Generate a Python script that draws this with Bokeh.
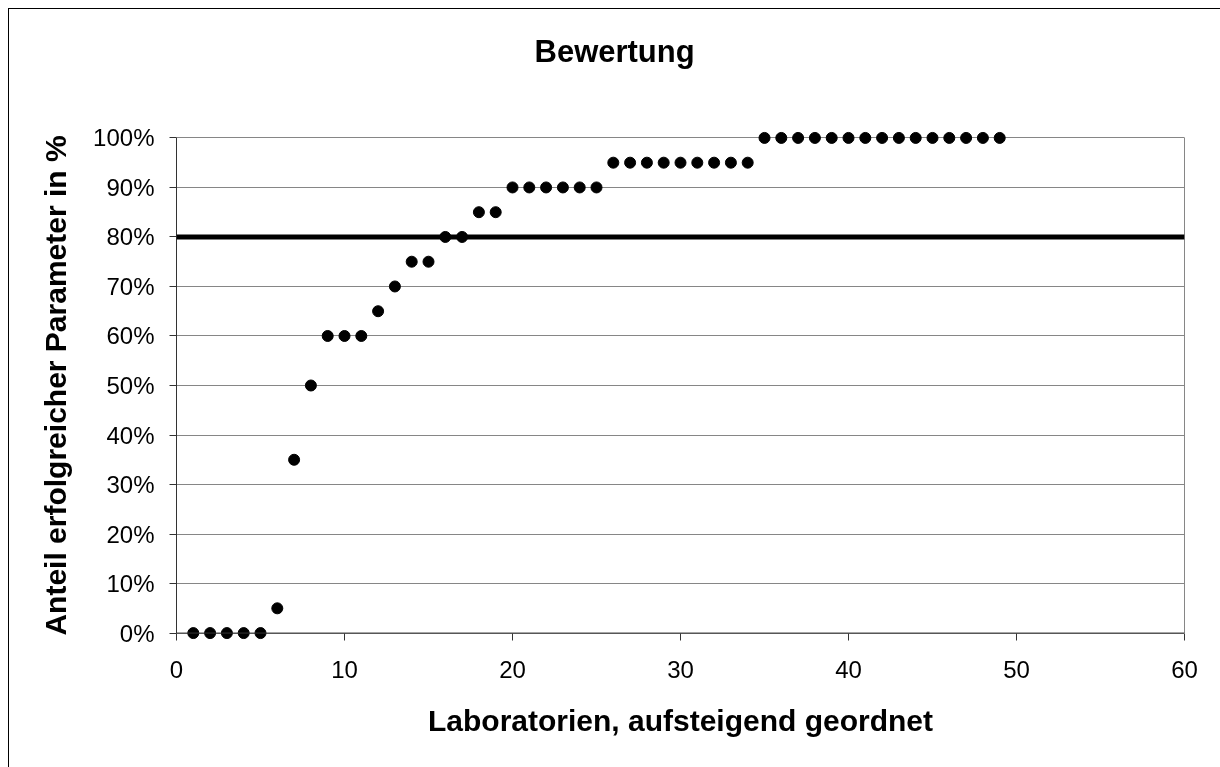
from bokeh.plotting import figure
from bokeh.models import FixedTicker, Span, LinearAxis, Range1d
from bokeh.embed import file_html
from bokeh.resources import INLINE

# ---- data ----
title_text = "Bewertung"
x_label = "Laboratorien, aufsteigend geordnet"
y_label = "Anteil erfolgreicher Parameter in %"
anteil = [0, 0, 0, 0, 0, 5, 35, 50, 60, 60, 60, 65, 70, 75, 75, 80, 80, 85, 85,
          90, 90, 90, 90, 90, 90,
          95, 95, 95, 95, 95, 95, 95, 95, 95,
          100, 100, 100, 100, 100, 100, 100, 100, 100, 100, 100, 100, 100, 100, 100]
labore = list(range(1, len(anteil) + 1))
threshold = 80
x_ticks = [0, 10, 20, 30, 40, 50, 60]
y_ticks = [0, 10, 20, 30, 40, 50, 60, 70, 80, 90, 100]
y_tick_labels = {t: f"{t}%" for t in y_ticks}

FONT = "Liberation Sans"
AXIS_DARK = "#333333"
GRID = "#868686"

p = figure(frame_width=1008, frame_height=510,
           x_range=Range1d(0, 60), y_range=Range1d(-1.5, 101.5),
           output_backend="svg", toolbar_location=None,
           min_border_left=167, min_border_right=45,
           min_border_top=121, min_border_bottom=130,
           background_fill_color="white", border_fill_color="white")
p.outline_line_color = None
# chart-area border: only its left and top edges lie inside the window
p.styles = {"position": "fixed", "left": "9px", "top": "9px",
            "box-shadow": "-1px -1px 0px 0px #000000"}

xa = p.below[0]
ya = p.left[0]

# invisible spacer axis above the plot area, pushes the title upwards
spacer = LinearAxis(ticker=FixedTicker(ticks=[x_ticks[0]]),
                    major_label_overrides={x_ticks[0]: ""})
spacer.axis_line_color = None
spacer.major_tick_line_color = "white"
spacer.major_tick_out = 62
spacer.major_tick_in = 0
spacer.minor_tick_line_color = None
spacer.minor_tick_out = 0
spacer.major_label_text_color = None
spacer.major_label_text_font_size = "1px"
spacer.major_label_standoff = 0
p.add_layout(spacer, "above")

# title
p.title.text = title_text
p.title.align = "left"
p.title.offset = 358
p.title.vertical_align = "bottom"
p.title.standoff = 0
p.title.text_font = FONT
p.title.text_font_size = "31px"
p.title.text_font_style = "bold"
p.title.text_color = "black"

# grid
p.xgrid.visible = False
p.ygrid.ticker = FixedTicker(ticks=y_ticks)
p.ygrid.grid_line_color = GRID
p.ygrid.grid_line_width = 1

# x axis (line drawn as a span at 0 %)
xa.ticker = FixedTicker(ticks=x_ticks)
xa.axis_line_color = None
xa.major_tick_line_color = AXIS_DARK
xa.major_tick_out = 0
xa.major_tick_in = 7
xa.minor_tick_line_color = None
xa.major_label_text_font = FONT
xa.major_label_text_font_size = "24px"
xa.major_label_text_color = "black"
xa.major_label_standoff = 20
xa.axis_label = x_label
xa.axis_label_text_font = FONT
xa.axis_label_text_font_size = "30px"
xa.axis_label_text_font_style = "bold"
xa.axis_label_text_color = "black"
xa.axis_label_standoff = 23

p.add_layout(Span(location=y_ticks[0], dimension="width",
                  line_color=AXIS_DARK, line_width=1))

# y axis
ya.ticker = FixedTicker(ticks=y_ticks)
ya.major_label_overrides = y_tick_labels
ya.bounds = (y_ticks[0], y_ticks[-1])
ya.axis_line_color = AXIS_DARK
ya.major_tick_line_color = AXIS_DARK
ya.major_tick_out = 7
ya.major_tick_in = 0
ya.minor_tick_line_color = None
ya.major_label_text_font = FONT
ya.major_label_text_font_size = "24px"
ya.major_label_text_color = "black"
ya.major_label_standoff = 15
ya.axis_label = y_label
ya.axis_label_text_font = FONT
ya.axis_label_text_font_size = "30px"
ya.axis_label_text_font_style = "bold"
ya.axis_label_text_color = "black"
ya.axis_label_standoff = 18

# right border of the plot area
ra = LinearAxis(ticker=FixedTicker(ticks=[]), bounds=(y_ticks[0], y_ticks[-1]))
ra.axis_line_color = GRID
ra.major_tick_line_color = None
ra.minor_tick_line_color = None
ra.major_label_text_color = None
p.add_layout(ra, "right")

# threshold line
p.add_layout(Span(location=threshold, dimension="width", line_color="black", line_width=5))

# points
p.scatter(labore, anteil, size=11, color="black")

open("out.html", "w").write(file_html(p, INLINE))
